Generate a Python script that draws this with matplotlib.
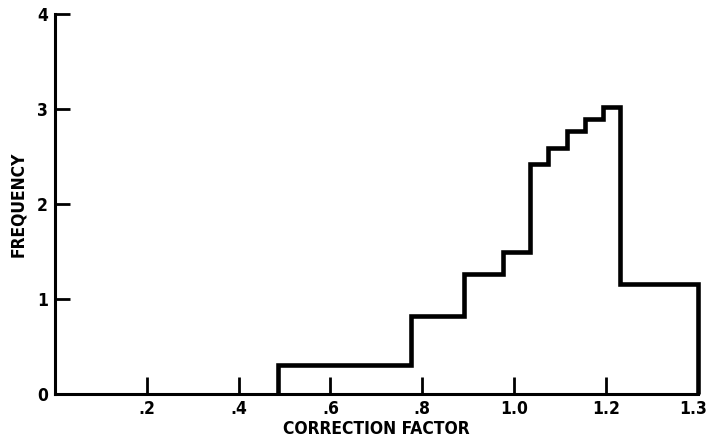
import matplotlib
matplotlib.use("Agg")
import matplotlib.pyplot as plt
from matplotlib import font_manager
from matplotlib.transforms import ScaledTranslation

# Histogram of correction factors (bin edges and frequencies)
bin_edges = [0.485, 0.775, 0.89, 0.975, 1.035, 1.075, 1.115, 1.155, 1.195, 1.23, 1.40]
frequencies = [0.30, 0.82, 1.26, 1.49, 2.42, 2.59, 2.77, 2.89, 3.02, 1.16]

x_tick_pos = [0.2, 0.4, 0.6, 0.8, 1.0, 1.2, 1.4]
x_tick_labels = [".2", ".4", ".6", ".8", "1.0", "1.2", "1.3"]
y_ticks = [0, 1, 2, 3, 4]
y_tick_labels = ["0", "1", "2", "3", "4"]

installed = {f.name for f in font_manager.fontManager.ttflist}
if "Liberation Sans Narrow" in installed:
    family = ["Liberation Sans Narrow", "DejaVu Sans"]
    stretch = "normal"
else:
    family = ["DejaVu Sans"]
    stretch = "condensed"
plt.rcParams["font.family"] = family
plt.rcParams["font.stretch"] = stretch
plt.rcParams["font.weight"] = "bold"

fig = plt.figure(figsize=(7.10, 4.38), dpi=100)
ax = fig.add_axes([0.0775, 0.1005, 0.905, 0.8675])

ax.stairs(frequencies, bin_edges, baseline=0, fill=False,
          color="black", linewidth=3.3, clip_on=False)

ax.set_xlim(0, 1.40)
ax.set_ylim(0, 4)

for side in ("top", "right"):
    ax.spines[side].set_visible(False)
for side in ("left", "bottom"):
    ax.spines[side].set_linewidth(2.2)
    ax.spines[side].set_color("black")

ax.set_xticks(x_tick_pos)
ax.set_xticklabels(x_tick_labels, fontsize=12.5, fontweight="bold")
ax.set_yticks(y_ticks)
ax.set_yticklabels(y_tick_labels, fontsize=12.5, fontweight="bold")
ax.tick_params(axis="x", direction="in", length=12, width=2, pad=4)
ax.tick_params(axis="y", direction="in", length=11, width=2, pad=5)

# nudge the last x label inward so it stays inside the figure
last = ax.get_xticklabels()[-1]
last.set_transform(last.get_transform() + ScaledTranslation(-3 / 72, 0, fig.dpi_scale_trans))

ax.set_xlabel("CORRECTION FACTOR", fontsize=12.5, fontweight="bold", labelpad=2)
ax.set_ylabel("FREQUENCY", fontsize=12.5, fontweight="bold", labelpad=7)

fig.savefig("out.png", dpi=100)
